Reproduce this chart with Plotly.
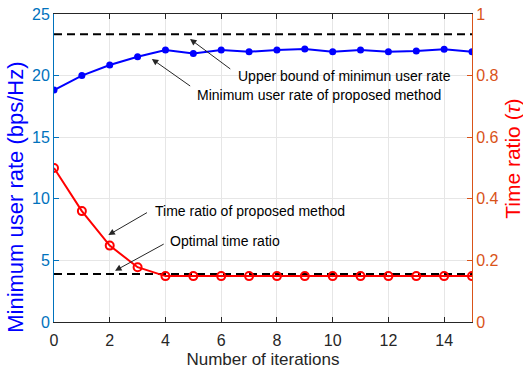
import plotly.graph_objects as go

iterations = list(range(16))
min_rate = [18.83, 20.0, 20.86, 21.53, 22.08, 21.8, 22.08, 21.94, 22.08, 22.16, 21.94, 22.08, 21.94, 22.0, 22.13, 21.94]
time_ratio = [0.5, 0.36, 0.248, 0.178, 0.149, 0.149, 0.149, 0.149, 0.149, 0.149, 0.149, 0.149, 0.149, 0.149, 0.149, 0.149]
upper_bound = 23.35
optimal_ratio_left = 3.9

x_ticks = [0, 2, 4, 6, 8, 10, 12, 14]
left_ticks = [0, 5, 10, 15, 20, 25]
right_ticks = [0, 0.2, 0.4, 0.6, 0.8, 1]
right_labels = ["0", "0.2", "0.4", "0.6", "0.8", "1"]

FONT = "Liberation Sans, Arial, sans-serif"
BLUE_AX = "#0072BD"
ORANGE_AX = "#D95319"

fig = go.Figure()
fig.add_trace(go.Scatter(x=[0, 15], y=[upper_bound, upper_bound], mode="lines",
                         line=dict(color="black", width=2, dash="8px,5px"), showlegend=False))
fig.add_trace(go.Scatter(x=[0, 15], y=[optimal_ratio_left, optimal_ratio_left], mode="lines",
                         line=dict(color="black", width=2, dash="8px,5px"), showlegend=False))
fig.add_trace(go.Scatter(x=iterations, y=min_rate, mode="lines+markers",
                         line=dict(color="#0000FF", width=2),
                         marker=dict(color="#0000FF", size=7, symbol="circle"),
                         showlegend=False))
fig.add_trace(go.Scatter(x=iterations, y=time_ratio, mode="lines+markers", yaxis="y2",
                         line=dict(color="#FF0000", width=2),
                         marker=dict(color="#FF0000", size=8, symbol="circle-open",
                                     line=dict(color="#FF0000", width=2)),
                         showlegend=False))

annos = [
    # (head x, head y, tail x, tail y, text x, text y, text)
    (4.88, 22.97, 6.38, 20.45, 6.53, 19.97, "Upper bound of minimun user rate"),
    (3.51, 21.35, 4.94, 19.07, 5.06, 18.43, "Minimum user rate of proposed method"),
    (1.95, 7.06, 3.39, 8.95, 3.57, 9.03, "Time ratio of proposed method"),
    (2.19, 4.16, 3.99, 6.39, 4.10, 6.6, "Optimal time ratio"),
]
for hx, hy, tx, ty, lx, ly, txt in annos:
    fig.add_annotation(x=hx, y=hy, ax=tx, ay=ty, xref="x", yref="y", axref="x", ayref="y",
                       text="", showarrow=True, arrowhead=2, arrowsize=1.3, arrowwidth=1,
                       arrowcolor="#262626")
    fig.add_annotation(x=lx, y=ly, xref="x", yref="y", text=txt, showarrow=False,
                       xanchor="left", yanchor="middle",
                       font=dict(family=FONT, size=14, color="#000000"))

# y-axis titles placed as rotated annotations (positions as in the reference)
fig.add_annotation(x=-0.092, y=0.405, xref="paper", yref="paper", text="Minimum user rate (bps/Hz)",
                   textangle=-90, showarrow=False, xanchor="center", yanchor="middle",
                   font=dict(family=FONT, size=22, color="#0000FF"))
fig.add_annotation(x=1.095, y=0.529, xref="paper", yref="paper", text="Time ratio (<i>τ</i>)",
                   textangle=-90, showarrow=False, xanchor="center", yanchor="middle",
                   font=dict(family=FONT, size=21, color="#FF0000"))

fig.update_layout(
    width=523, height=375,
    margin=dict(l=54, r=51, t=14, b=53),
    paper_bgcolor="white", plot_bgcolor="white",
    font=dict(family=FONT, size=16, color="#262626"),
    xaxis=dict(range=[0, 15], tickvals=x_ticks, showgrid=True, gridcolor="#E6E6E6",
               zeroline=False, showline=True, linecolor="#262626", linewidth=1,
               mirror="ticks", ticks="inside", ticklen=5, tickcolor="#262626",
               tickfont=dict(size=16, color="#262626"), automargin=False, ticklabelstandoff=4,
               title=dict(text="Number of iterations", font=dict(size=17, color="#262626"), standoff=4)),
    yaxis=dict(range=[0, 25], tickvals=left_ticks, showgrid=True, gridcolor="#E6E6E6",
               zeroline=False, showline=True, linecolor=BLUE_AX, linewidth=1,
               ticks="inside", ticklen=5, tickcolor=BLUE_AX, automargin=False,
               tickfont=dict(size=16, color=BLUE_AX)),
    yaxis2=dict(range=[0, 1], tickvals=right_ticks, ticktext=right_labels, overlaying="y", side="right",
                showgrid=False, zeroline=False, showline=True, linecolor=ORANGE_AX, linewidth=1,
                ticks="inside", ticklen=5, tickcolor=ORANGE_AX, automargin=False,
                tickfont=dict(size=16, color=ORANGE_AX)),
)

# remove the browser's default 8px page margin so the figure sits at the window's corner
fig.write_html("out.html", config={"displayModeBar": False},
               post_script="document.body.style.margin='0';")
